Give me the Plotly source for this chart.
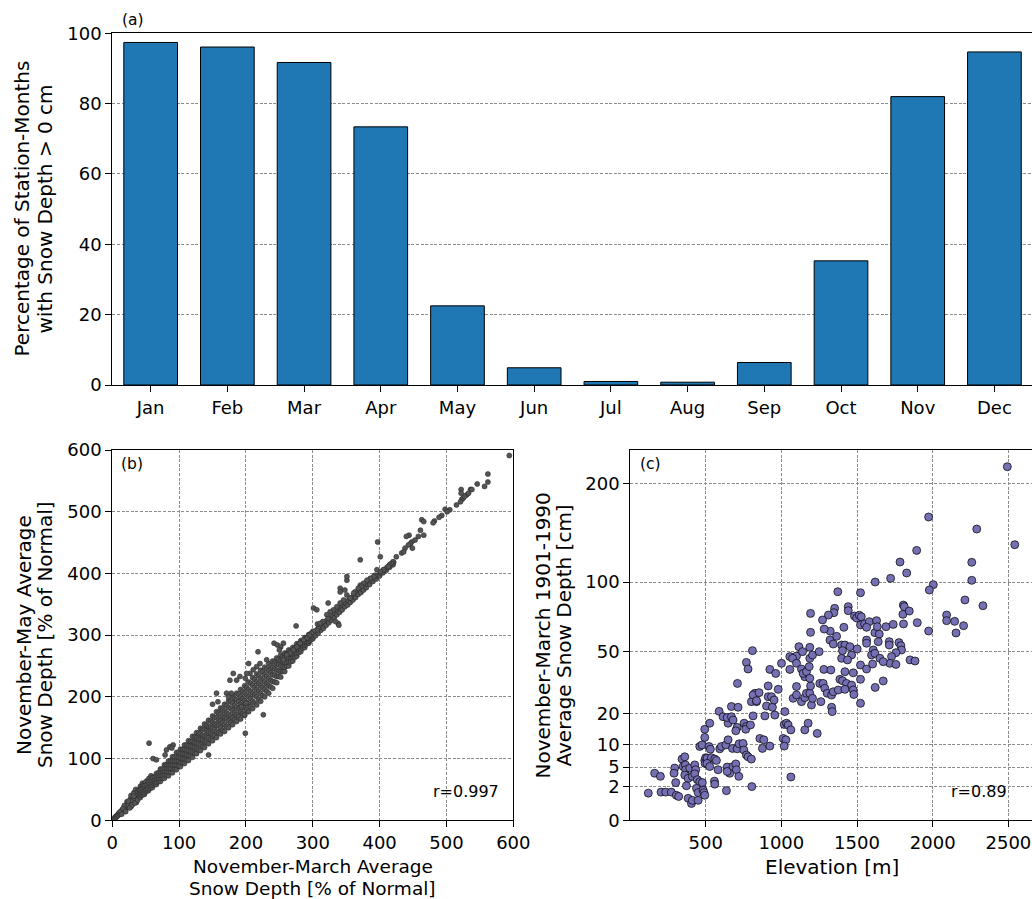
import numpy as np
import plotly.graph_objects as go

# ---------------------------------------------------------------- data
# (a) share of station-months with a snow cover, per calendar month
months = ["Jan", "Feb", "Mar", "Apr", "May", "Jun",
          "Jul", "Aug", "Sep", "Oct", "Nov", "Dec"]
pct_with_snow = [97.4, 96.1, 91.7, 73.4, 22.5, 4.9, 1.0, 0.8, 6.4, 35.3, 82.0, 94.7]

# (b) November-March vs November-May average snow depth [% of normal]
nm_band_low = [
    (1, 1), (2, 3), (3, 2), (4, 5), (5, 4), (6, 7), (7, 6), (8, 9), (9, 8), (10, 12),
    (11, 10), (12, 13), (13, 12), (14, 16), (15, 14), (16, 18), (17, 16), (18, 20), (19, 18), (20, 23),
    (21, 20), (22, 25), (23, 22), (24, 27), (25, 24), (26, 29), (27, 26), (28, 32), (29, 27), (30, 34),
    (31, 29), (32, 36), (33, 31), (34, 38), (35, 33), (36, 41), (37, 35), (38, 43), (39, 37), (40, 44),
    (18, 24), (22, 30), (27, 34), (30, 40), (33, 45), (37, 48), (12, 14), (16, 19), (24, 26), (29, 31),
    (34, 35), (39, 41), (28, 40), (32, 44), (35, 50), (38, 47), (42, 55), (45, 60), (48, 58), (52, 64),
    (55, 68), (58, 72), (44, 52), (50, 62), (20, 14), (24, 31), (28, 22), (32, 39), (36, 29), (40, 49),
    (14, 10), (26, 20), (30, 25), (34, 28), (38, 33),
]
nm_band_core = [
    (42, 37), (42, 40), (42, 43), (42, 46), (42, 49), (45, 41), (45, 44), (45, 48), (45, 51),
    (48, 42), (48, 45), (48, 49), (48, 53), (48, 56), (51, 47), (51, 50), (51, 54), (51, 57),
    (54, 48), (54, 51), (54, 55), (54, 59), (54, 62), (57, 52), (57, 56), (57, 60), (57, 64),
    (60, 53), (60, 57), (60, 61), (60, 65), (60, 69), (63, 58), (63, 62), (63, 66), (63, 70),
    (66, 58), (66, 62), (66, 67), (66, 72), (66, 76), (69, 63), (69, 68), (69, 72), (69, 77),
    (72, 63), (72, 68), (72, 73), (72, 78), (72, 83), (75, 68), (75, 73), (75, 79), (75, 83),
    (78, 68), (78, 74), (78, 79), (78, 84), (78, 90), (81, 74), (81, 79), (81, 85), (81, 90),
    (84, 72), (84, 78), (84, 84), (84, 90), (84, 96), (87, 78), (87, 84), (87, 90), (87, 96),
    (90, 77), (90, 84), (90, 90), (90, 96), (90, 103), (93, 83), (93, 90), (93, 96), (93, 103),
    (96, 82), (96, 89), (96, 96), (96, 103), (96, 110), (99, 88), (99, 96), (99, 102), (99, 110),
    (102, 87), (102, 94), (102, 101), (102, 108), (102, 115), (105, 93), (105, 100), (105, 108), (105, 115),
    (108, 92), (108, 99), (108, 107), (108, 115), (108, 122), (111, 98), (111, 106), (111, 114), (111, 122),
    (114, 97), (114, 105), (114, 113), (114, 121), (114, 129), (117, 104), (117, 112), (117, 120), (117, 128),
    (120, 102), (120, 110), (120, 119), (120, 128), (120, 136), (123, 109), (123, 118), (123, 126), (123, 135),
    (126, 108), (126, 116), (126, 125), (126, 134), (126, 142), (129, 114), (129, 124), (129, 132), (129, 142),
    (132, 113), (132, 122), (132, 131), (132, 140), (132, 149), (135, 120), (135, 130), (135, 138), (135, 148),
    (138, 118), (138, 127), (138, 137), (138, 147), (138, 156), (141, 126), (141, 135), (141, 145), (141, 154),
    (144, 124), (144, 134), (144, 143), (144, 152), (144, 162), (147, 131), (147, 141), (147, 151), (147, 161),
    (150, 129), (150, 139), (150, 149), (150, 159), (150, 169), (153, 137), (153, 147), (153, 157), (153, 167),
    (156, 134), (156, 144), (156, 155), (156, 166), (156, 176), (159, 142), (159, 153), (159, 163), (159, 174),
    (162, 140), (162, 150), (162, 161), (162, 172), (162, 182), (165, 146), (165, 158), (165, 168), (165, 180),
    (168, 144), (168, 155), (168, 166), (168, 177), (168, 188), (171, 152), (171, 164), (171, 174), (171, 186),
    (174, 150), (174, 161), (174, 172), (174, 183), (174, 194), (177, 158), (177, 169), (177, 181), (177, 192),
    (180, 155), (180, 166), (180, 178), (180, 190), (180, 201), (183, 163), (183, 174), (183, 186), (183, 197),
    (186, 160), (186, 171), (186, 183), (186, 195), (186, 206), (189, 168), (189, 180), (189, 192), (189, 204),
    (192, 164), (192, 176), (192, 188), (192, 200), (192, 212), (195, 173), (195, 185), (195, 197), (195, 209),
    (198, 170), (198, 182), (198, 194), (198, 206), (198, 218), (201, 179), (201, 191), (201, 203), (201, 215),
    (204, 176), (204, 188), (204, 200), (204, 212), (204, 224), (207, 184), (207, 197), (207, 209), (207, 222),
    (210, 181), (210, 193), (210, 206), (210, 219), (210, 231), (213, 190), (213, 203), (213, 215), (213, 228),
    (216, 187), (216, 200), (216, 212), (216, 224), (216, 237), (219, 196), (219, 209), (219, 221), (219, 234),
    (222, 193), (222, 206), (222, 218), (222, 230), (222, 243), (225, 202), (225, 215), (225, 227), (225, 240),
    (228, 200), (228, 212), (228, 224), (228, 236), (228, 248), (231, 209), (231, 221), (231, 233), (231, 245),
    (234, 206), (234, 218), (234, 230), (234, 242), (234, 254), (237, 216), (237, 227), (237, 239), (237, 250),
    (240, 214), (240, 225), (240, 236), (240, 247), (240, 258), (243, 224), (243, 235), (243, 245), (243, 256),
    (246, 223), (246, 233), (246, 243), (246, 253), (246, 263), (249, 233), (249, 242), (249, 252), (249, 261),
    (252, 232), (252, 241), (252, 250), (252, 259), (252, 268), (255, 241), (255, 249), (255, 257), (255, 265),
    (258, 241), (258, 248), (258, 256), (258, 264), (258, 271), (261, 250), (261, 256), (261, 264), (261, 270),
    (264, 250), (264, 257), (264, 263), (264, 270), (264, 276), (267, 257), (267, 263), (267, 269), (267, 275),
    (270, 258), (270, 264), (270, 269), (270, 274), (270, 280), (273, 264), (273, 270), (273, 274), (273, 280),
    (276, 266), (276, 271), (276, 276), (276, 281), (276, 286), (279, 272), (279, 277), (279, 281), (279, 286),
    (282, 273), (282, 278), (282, 282), (282, 286), (282, 291), (285, 279), (285, 283), (285, 287), (285, 291),
    (288, 280), (288, 284), (288, 288), (288, 292), (288, 296), (291, 286), (291, 289), (291, 293), (291, 296),
    (294, 287), (294, 290), (294, 294), (294, 298), (294, 301), (297, 292), (297, 295), (297, 299), (297, 302),
    (300, 294), (300, 297), (300, 300), (300, 303), (300, 306),
]
nm_band_high = [
    (304, 299), (305, 307), (308, 303), (309, 312), (307, 318), (312, 308), (313, 316),
    (316, 311), (317, 320), (320, 316), (321, 324), (324, 320), (325, 328), (328, 324), (329, 331),
    (332, 328), (333, 336), (336, 333), (337, 340), (340, 337), (341, 344), (344, 341), (345, 348),
    (348, 346), (349, 352), (352, 349), (353, 356), (356, 353), (357, 360), (360, 357), (361, 363),
    (364, 361), (365, 367), (368, 366), (369, 372), (372, 369), (373, 375), (376, 373), (377, 379),
    (380, 377), (381, 383), (385, 382), (386, 388), (390, 387), (391, 392), (395, 391), (396, 396),
    (400, 396), (401, 401), (405, 401), (406, 406), (410, 405), (411, 410), (415, 410), (416, 415),
    (420, 414), (421, 418),
]
nm_scattered = [
    (594, 591), (562, 561), (562, 548), (557, 541), (546, 545), (536, 536), (538, 536), (530, 527),
    (533, 530), (523, 520), (525, 522), (521, 516), (527, 525), (522, 536), (522, 530), (515, 511),
    (505, 503), (498, 504), (501, 500), (493, 494), (489, 491), (482, 485), (480, 482), (463, 487),
    (466, 484), (461, 470), (458, 460), (466, 462), (453, 454), (448, 451), (446, 448), (449, 441),
    (443, 446), (444, 462), (440, 460), (425, 427), (433, 433), (438, 441), (436, 435), (420, 419),
    (418, 416), (415, 414), (413, 411), (397, 451), (401, 427), (406, 406), (401, 403), (396, 406),
    (393, 397), (391, 395), (386, 392), (381, 389), (376, 384), (371, 381), (373, 379), (368, 376),
    (363, 370), (361, 368), (371, 422), (351, 365), (356, 360), (346, 357), (341, 352), (336, 346),
    (331, 341), (326, 338), (321, 333), (351, 389), (351, 395), (341, 376), (341, 370), (348, 373),
    (323, 352), (338, 319), (334, 322), (339, 316), (323, 327), (315, 322), (311, 319), (308, 311),
    (306, 308), (301, 306), (298, 303), (295, 300), (291, 295), (286, 292), (281, 287), (276, 281),
    (271, 276), (266, 271), (261, 268), (256, 260), (301, 344), (306, 341), (275, 315), (242, 287),
    (256, 287), (247, 284), (252, 281), (250, 276), (231, 260), (221, 254), (216, 249), (211, 244),
    (206, 238), (218, 273), (204, 254), (201, 238), (199, 230), (186, 227), (191, 233), (181, 238),
    (176, 227), (178, 206), (171, 206), (174, 200), (156, 206), (150, 188), (158, 192), (200, 190),
    (193, 184), (198, 171), (199, 141), (226, 171), (144, 106), (86, 119), (81, 114), (79, 106),
    (91, 122), (89, 117), (55, 125), (61, 100), (66, 98),
]

# (c) station elevation [m] vs November-March 1901-1990 mean snow depth [cm]
elev_vs_depth = [
    (121, 1.3), (163, 3.9), (201, 3.4), (205, 1.4), (236, 1.4), (273, 1.4), (306, 1.1), (322, 1.0),
    (295, 4.8), (291, 3.9), (302, 2.5), (344, 6.6), (362, 7.1), (351, 5.1), (366, 5.4), (368, 4.5),
    (362, 3.6), (395, 4.8), (384, 3.1), (373, 2.1), (412, 3.4), (384, 0.85), (406, 0.5), (412, 0.7),
    (428, 5.4), (434, 4.5), (428, 3.8), (445, 2.9), (461, 2.6), (472, 2.0), (439, 1.8), (450, 1.35),
    (450, 0.7), (478, 2.5), (483, 1.6), (489, 1.35), (494, 1.1), (461, 9.6), (476, 10.0), (494, 12.1),
    (494, 14.6), (527, 16.6), (494, 6.3), (496, 5.7), (500, 6.9), (509, 6.8), (538, 6.9), (560, 6.6),
    (571, 6.3), (509, 5.7), (527, 5.1), (582, 4.5), (522, 9.6), (531, 8.9), (558, 2.7), (560, 2.3),
    (593, 9.0), (604, 9.6), (633, 10.0), (648, 11.4), (589, 20.9), (615, 18.9), (637, 1.55), (642, 5.0),
    (659, 3.9), (642, 4.2), (681, 5.1), (699, 5.6), (703, 4.5), (648, 16.6), (642, 18.6), (670, 18.9),
    (681, 17.7), (670, 22.8), (714, 22.5), (677, 9.1), (708, 9.0), (721, 10.3), (708, 15.2), (699, 14.1),
    (719, 3.4), (747, 10.4), (752, 8.7), (769, 7.5), (780, 7.1), (802, 6.6), (754, 16.6), (769, 15.5),
    (765, 14.6), (796, 16.0), (710, 33.0), (769, 43.9), (780, 40.3), (809, 50.7), (805, 2.0), (802, 24.8),
    (836, 24.8), (813, 19.2), (825, 28.4), (813, 27.7), (836, 25.2), (853, 28.7), (858, 11.8), (884, 11.4),
    (875, 9.1), (924, 9.7), (891, 19.2), (902, 23.0), (913, 26.9), (935, 26.9), (941, 22.5), (952, 25.5),
    (913, 31.8), (924, 40.1), (963, 38.0), (957, 19.5), (979, 30.2), (1001, 43.4), (1012, 11.8), (1030, 11.4),
    (1019, 9.7), (1023, 20.8), (1019, 16.2), (1034, 16.6), (1045, 16.0), (1063, 14.4), (1063, 3.3), (1056, 47.2),
    (1100, 47.5), (1116, 53.1), (1140, 50.1), (1074, 46.2), (1056, 40.1), (1100, 43.4), (1133, 40.3), (1078, 26.2),
    (1100, 27.7), (1133, 24.8), (1155, 26.5), (1100, 31.5), (1155, 36.3), (1144, 38.0), (1166, 38.9), (1184, 41.6),
    (1155, 14.4), (1177, 16.6), (1166, 28.4), (1188, 28.4), (1193, 31.8), (1188, 35.5), (1199, 23.4), (1206, 26.2),
    (1237, 13.3), (1188, 52.7), (1188, 46.2), (1206, 48.1), (1193, 62.2), (1250, 50.1), (1254, 33.0), (1276, 33.0),
    (1287, 30.7), (1261, 24.8), (1281, 40.1), (1193, 75.4),
    (1323, 63.0), (1365, 59.6), (1321, 57.2), (1343, 54.7), (1398, 54.1), (1420, 54.1), (1453, 53.1), (1404, 50.7),
    (1464, 48.1), (1398, 46.2), (1437, 45.3), (1501, 51.7), (1563, 57.2), (1563, 55.2), (1618, 62.0), (1647, 61.1),
    (1640, 56.2), (1713, 56.2), (1713, 54.1), (1777, 55.6), (1790, 53.7), (1794, 51.1), (1757, 49.5), (1728, 47.2),
    (1717, 43.4), (1757, 42.8), (1607, 51.1), (1596, 48.1), (1618, 49.1), (1651, 46.2), (1673, 44.3), (1523, 42.5),
    (1563, 40.3), (1603, 43.0), (1850, 45.3), (1883, 44.7), (1327, 39.8), (1420, 38.9), (1475, 38.3), (1387, 35.0),
    (1404, 34.3), (1431, 33.0), (1464, 32.2), (1523, 35.0), (1673, 34.2), (1620, 31.1), (1303, 28.4), (1332, 27.6),
    (1343, 29.1), (1376, 29.9), (1420, 30.2), (1475, 29.9), (1479, 27.9), (1523, 24.1), (1332, 22.5), (1336, 20.8),
    (2493, 220.2), (1973, 162.0), (2291, 149.4), (2542, 133.8), (1894, 128.3), (1784, 117.5), (2258, 117.2),
    (1828, 107.7), (1722, 103.1), (2258, 101.4), (1620, 100.0), (2004, 97.8), (1978, 93.4), (1373, 92.0),
    (1523, 91.2), (2213, 85.5), (2332, 81.1), (1806, 81.6), (1812, 80.4), (1352, 79.1), (1347, 75.9),
    (1442, 80.4), (1442, 77.4), (1311, 74.2), (1272, 70.7), (1283, 64.4), (1413, 65.6), (1483, 73.5),
    (1497, 72.1), (1515, 74.0), (1528, 73.0), (1523, 67.2), (1550, 67.9), (1581, 69.5), (1563, 65.6),
    (1629, 70.2), (1634, 66.0), (1691, 66.0), (1739, 67.6), (1807, 67.9), (1803, 74.7), (1845, 77.1),
    (1898, 68.8), (1973, 63.1), (2092, 74.2), (2092, 70.2), (2145, 69.7), (2154, 61.8), (2204, 66.7),
]

depth_ticks = [0, 2, 5, 10, 20, 50, 100, 200]
elev_ticks = [500, 1000, 1500, 2000, 2500]
pct_ticks = [0, 100, 200, 300, 400, 500, 600]

r_b = "r=0.997"
r_c = "r=0.89"

# ---------------------------------------------------------------- layout helpers
W, H = 1032, 899
FONT = "DejaVu Sans"


def fx(px):
    return px / W


def fy(py):
    return 1 - py / H


A_X = [fx(112.3), 1.0]
A_Y = [fy(385.0), fy(33.3)]
B_X = [fx(112.3), fx(513.3)]
B_Y = [fy(820.3), fy(450.0)]
C_X = [fx(630.3), 1.0]
C_Y = B_Y

axis_common = dict(
    showline=True, linecolor="black", linewidth=1.1,
    ticks="outside", ticklen=6, tickwidth=1.1, tickcolor="black",
    tickfont=dict(size=18, color="black", family=FONT),
    zeroline=False, automargin=False,
)
grid_on = dict(showgrid=True, gridcolor="#8c8c8c", gridwidth=0.8, griddash="3px,1.6px")
grid_off = dict(showgrid=False)

# ---------------------------------------------------------------- traces
fig = go.Figure()

fig.add_trace(go.Bar(
    x=months, y=pct_with_snow, width=0.7,
    marker=dict(color="#1f77b4", line=dict(color="black", width=1.0)),
    xaxis="x", yaxis="y", showlegend=False,
))

b_points = nm_band_low + nm_band_core + nm_band_high + nm_scattered
b_x = [p[0] for p in b_points]
b_y = [p[1] for p in b_points]
fig.add_trace(go.Scatter(
    x=b_x, y=b_y, mode="markers",
    marker=dict(size=5, color="#555555", line=dict(color="#2a2a2a", width=0.6)),
    xaxis="x2", yaxis="y2", showlegend=False,
))

c_elev = [p[0] for p in elev_vs_depth]
c_depth = [p[1] for p in elev_vs_depth]
# square-root scale on the depth axis
fig.add_trace(go.Scatter(
    x=c_elev, y=np.sqrt(c_depth), mode="markers",
    marker=dict(size=8, color="#7570b3", line=dict(color="black", width=0.7)),
    xaxis="x3", yaxis="y3", showlegend=False,
))

# ---------------------------------------------------------------- axes
fig.update_layout(
    width=W, height=H,
    margin=dict(l=0, r=0, t=0, b=0),
    paper_bgcolor="white", plot_bgcolor="white",
    font=dict(family=FONT, color="black"),
    showlegend=False,
    xaxis=dict(domain=A_X, anchor="y", type="category", range=[-0.5, 11.49],
               mirror=True, **axis_common, **grid_off),
    yaxis=dict(domain=A_Y, anchor="x", range=[0, 100], tickvals=[0, 20, 40, 60, 80, 100],
               mirror=False, **axis_common, **grid_on),
    xaxis2=dict(domain=B_X, anchor="y2", range=[0, 600], tickvals=pct_ticks,
                mirror=True, **axis_common, **grid_on),
    yaxis2=dict(domain=B_Y, anchor="x2", range=[0, 600], tickvals=pct_ticks,
                mirror=True, **axis_common, **grid_on),
    xaxis3=dict(domain=C_X, anchor="y3", range=[2, 2656], tickvals=elev_ticks,
                mirror=True, **axis_common, **grid_on),
    yaxis3=dict(domain=C_Y, anchor="x3", range=[0, 15.54],
                tickvals=list(np.sqrt(depth_ticks)), ticktext=[str(t) for t in depth_ticks],
                mirror=False, **axis_common, **grid_on),
)


def label(text, x, y, size, angle=0, xanchor="center", yanchor="middle"):
    return dict(text=text, x=fx(x), y=fy(y), xref="paper", yref="paper",
                showarrow=False, textangle=angle, xanchor=xanchor, yanchor=yanchor,
                font=dict(size=size, family=FONT, color="black"))


annotations = [
    # panel letters
    label("(a)", 119.5, 20, 15.5, xanchor="left"),
    label("(b)", 119.0, 463.5, 15.5, xanchor="left"),
    label("(c)", 637.5, 463.5, 15.5, xanchor="left"),
    # correlation notes
    label(r_b, 500.5, 791.5, 16, xanchor="right"),
    label(r_c, 1008.5, 791.5, 16, xanchor="right"),
    # axis titles, panel (a)
    label("Percentage of Station-Months", 21.5, 209, 20, angle=-90),
    label("with Snow Depth > 0 cm", 44.5, 209, 20, angle=-90),
    # axis titles, panel (b)
    label("November-May Average", 24.0, 635, 20, angle=-90),
    label("Snow Depth [% of Normal]", 45.0, 635, 20, angle=-90),
    label("November-March Average", 312.8, 866.5, 18.5),
    label("Snow Depth [% of Normal]", 312.8, 888.0, 18.5),
    # axis titles, panel (c)
    label("November-March 1901-1990", 542.5, 636, 20, angle=-90),
    label("Average Snow Depth [cm]", 563.5, 636, 20, angle=-90),
    label("Elevation [m]", 831.5, 867, 20),
]
fig.update_layout(annotations=annotations)

fig.write_html("out.html")
